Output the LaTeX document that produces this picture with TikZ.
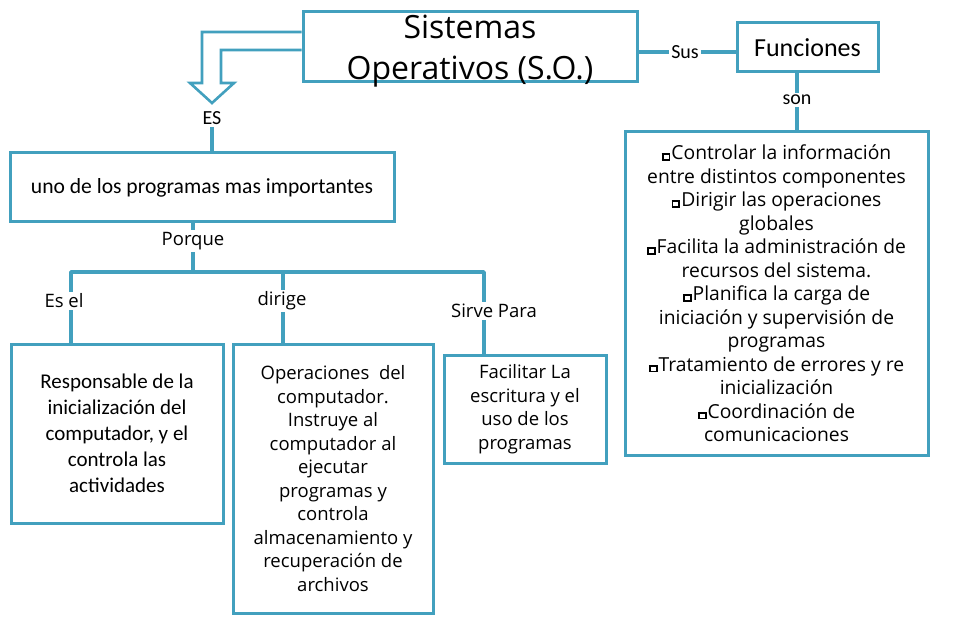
\documentclass[tikz,border=0pt]{standalone}
\usepackage{fontspec}
\setmainfont{Open Sans}
\newfontfamily\calf{Carlito}
\newfontfamily\comf{Open Sans}
\definecolor{teal1}{RGB}{66,160,190}
\newcommand\sqbul{{\setlength{\fboxrule}{1.9pt}\setlength{\fboxsep}{0pt}\raisebox{0.8pt}{\fbox{\rule{0pt}{4pt}\rule{5pt}{0pt}}}}\kern1pt}
\tikzset{
  box/.style={draw=teal1, line width=3pt, fill=white, inner sep=0pt, align=center, text=black},
  conn/.style={draw=teal1, line width=3.5pt},
  lab/.style={inner sep=2pt, text=black},
  comt/.style={font=\comf\fontsize{18.5}{23.5}\selectfont},
  calt/.style={font=\calf\fontsize{21}{26}\selectfont},
  labcal/.style={font=\calf\fontsize{20}{24}\selectfont},
}
\begin{document}
\begin{tikzpicture}[x=1pt,y=-1pt]
\useasboundingbox (0,0) rectangle (960,636);
% nodes
\node[box, minimum width=334pt, minimum height=70pt] (title) at (470,47) {};
\node[inner sep=0pt, align=center, text=black, font=\comf\fontsize{32}{41}\selectfont] (titletext) at (470,51) {Sistemas\\Operativos (S.O.)};
\node[box, minimum width=141pt, minimum height=49pt, font=\calf\fontsize{26}{30}\selectfont] (fun) at (807.5,47.5) {Funciones};
\node[lab, labcal] (sus) at (685,52) {Sus};
\node[lab, labcal] (son) at (797,100) {son};
\node[box, minimum width=303pt, minimum height=323pt, font=\comf\fontsize{19.3}{23.5}\selectfont] (fbox) at (776.5,293.5)
 {\sqbul Controlar la información\\entre distintos componentes\\\sqbul Dirigir las operaciones\\globales\\\sqbul Facilita la administración de\\recursos del sistema.\\\sqbul Planifica la carga de\\iniciación y supervisión de\\programas\\\sqbul Tratamiento de errores y re\\inicialización\\\sqbul Coordinación de\\comunicaciones};
\node[lab, labcal] (es) at (212,118) {ES};
\node[box, minimum width=384pt, minimum height=69pt, font=\calf\fontsize{21.6}{26}\selectfont] (uno) at (202,187.5) {uno de los programas mas importantes};
\node[lab, comt] (porque) at (193,241) {Porque};
\node[lab, comt] (esel) at (64,301) {Es el};
\node[lab, comt] (dirige) at (282,301) {dirige};
\node[lab, comt] (sirve) at (494,311) {Sirve Para};
\node[box, minimum width=212pt, minimum height=179pt, calt] (left) at (117,433.5)
 {Responsable de la\\inicialización del\\computador, y el\\controla las\\actividades};
\node[box, minimum width=200pt, minimum height=269pt, comt] (mid) at (333,478.5)
 {Operaciones~~del\\computador.\\Instruye al\\computador al\\ejecutar\\programas y\\controla\\almacenamiento y\\recuperación de\\archivos};
\node[box, minimum width=162pt, minimum height=108pt, comt] (right) at (525,409)
 {Facilitar La\\escritura y el\\uso de los\\programas};
% coordinates
\coordinate (barL) at (71,272);
\coordinate (barM) at (283,272);
\coordinate (barR) at (484,272);
\coordinate (a1) at (0,32);
\coordinate (a2) at (0,50);
% hollow arrow
\draw[draw=teal1, line width=2.6pt, fill=white, line join=miter]
  (title.west |- a1) -- (202,32) -- (202,83) -- (190,83) -- (212,103) -- (234,83) -- (221,83) -- (221,50) -- (title.west |- a2);
% connectors
\draw[conn] (title.east |- sus) -- (sus.west);
\draw[conn] (sus.east) -- (fun.west |- sus);
\draw[conn] (fun.south -| son) -- (son.north);
\draw[conn] (son.south) -- (fbox.north -| son);
\draw[conn] (es.south) -- (uno.north -| es);
\draw[conn] (uno.south -| porque) -- (porque.north);
\draw[conn] (porque.south) -- (porque.south |- barL);
\draw[conn, line join=round] (esel.north -| barL) -- (barL) -- (barR) -- (sirve.north -| barR);
\draw[conn] (barM) -- (dirige.north -| barM);
\draw[conn] (esel.south -| barL) -- (left.north -| barL);
\draw[conn] (dirige.south -| barM) -- (mid.north -| barM);
\draw[conn] (sirve.south -| barR) -- (right.north -| barR);
\end{tikzpicture}
\end{document}
